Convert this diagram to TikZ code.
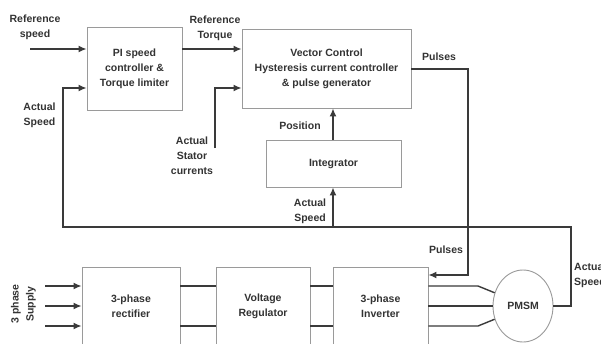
\documentclass[tikz,border=0pt]{standalone}
\usepackage{fontspec}
\setmainfont{Liberation Sans}
\usetikzlibrary{arrows.meta,shapes.geometric}
\definecolor{txt}{HTML}{333333}
\definecolor{wire}{HTML}{3A3A3A}
\definecolor{boxline}{HTML}{9A9A9A}
\begin{document}
\begin{tikzpicture}[x=1pt,y=-1pt,
  every node/.style={font=\fontsize{10.5}{15}\selectfont\bfseries, text=txt, inner sep=0pt},
  blk/.style={draw=boxline, line width=0.9pt, rectangle, align=center},
  lbl/.style={align=center},
  wireline/.style={draw=wire, line width=1.4pt},
  arr/.style={wireline, -{Latex[length=8pt,width=7pt]}}]
\useasboundingbox (0,0) rectangle (601,343);
\clip (0,0) rectangle (601,343);
\fill[white] (0,0) rectangle (601,343);
% blocks
\node[blk, minimum width=95pt, minimum height=83pt] (pi) at (134.5,68.5) {PI speed\\controller \&\\Torque limiter};
\node[blk, minimum width=169pt, minimum height=79pt] (vc) at (326.5,68.5) {Vector Control\\Hysteresis current controller\\\& pulse generator};
\node[blk, minimum width=135pt, minimum height=47pt] (integ) at (333.5,163.5) {Integrator};
\node[blk, minimum width=98pt, minimum height=78pt] (rect) at (131,306) {3-phase\\rectifier};
\node[blk, minimum width=94pt, minimum height=78pt] (reg) at (263,306) {Voltage\\Regulator};
\node[blk, minimum width=95pt, minimum height=78pt] (inv) at (380.5,306) {3-phase\\Inverter};
\node[draw=boxline, line width=0.9pt, ellipse, minimum width=60pt, minimum height=72pt] (pmsm) at (523,306) {PMSM};
% labels
\node[lbl] (lrs) at (35,27) {Reference\\speed};
\node[lbl] (lrt) at (215,28.5) {Reference\\Torque};
\node[lbl] (las1) at (39.5,115.5) {Actual\\Speed};
\node[lbl] (lsc) at (192,156) {Actual\\Stator\\currents};
\node[lbl] (lpos) at (300,126) {Position};
\node[lbl] (lp1) at (439,57) {Pulses};
\node[lbl] (las2) at (310,211) {Actual\\Speed};
\node[lbl] (lp2) at (446,250) {Pulses};
\node[align=left, anchor=west] (las3) at (574,275.5) {Actual\\Speed};
\node[lbl, rotate=90] (lsup) at (23.5,304) {3 phase\\Supply};
% coordinates
\coordinate (rs) at (30,49);
\coordinate (fbL) at (63,88);
\coordinate (fbB) at (63,227);
\coordinate (fbR) at (571,227);
\coordinate (fbM) at (571,306);
\coordinate (br) at (333,227);
\coordinate (sc) at (215,148);
\coordinate (scT) at (215,88);
\coordinate (pl) at (411,69);
\coordinate (plR) at (468,69);
\coordinate (plB) at (468,275);
\coordinate (s1) at (45,286);
\coordinate (s2) at (45,306);
\coordinate (s3) at (45,326);
\coordinate (k1) at (478,286);
\coordinate (k3) at (478,326);
% connectors
\draw[arr] (rs) -- (rs -| pi.west);
\draw[arr] (rs -| pi.east) -- (rs -| vc.west);
\draw[arr] (pmsm.east) -- (fbM) -- (fbR) -- (fbB) -- (fbL) -- (fbL -| pi.west);
\draw[arr] (br) -- (br |- integ.south);
\draw[arr] (integ.north -| br) -- (br |- vc.south);
\draw[arr] (sc) -- (scT) -- (scT -| vc.west);
\draw[arr] (pl -| vc.east) -- (plR) -- (plB) -- (plB -| inv.east);
\draw[arr] (s1) -- (s1 -| rect.west);
\draw[arr] (s2) -- (s2 -| rect.west);
\draw[arr] (s3) -- (s3 -| rect.west);
\draw[wireline] (s1 -| rect.east) -- (s1 -| reg.west);
\draw[wireline] (s3 -| rect.east) -- (s3 -| reg.west);
\draw[wireline] (s1 -| reg.east) -- (s1 -| inv.west);
\draw[wireline] (s3 -| reg.east) -- (s3 -| inv.west);
\draw[wireline] (s1 -| inv.east) -- (k1) -- (pmsm.155);
\draw[wireline] (s2 -| inv.east) -- (pmsm.west);
\draw[wireline] (s3 -| inv.east) -- (k3) -- (pmsm.205);
\end{tikzpicture}
\end{document}
